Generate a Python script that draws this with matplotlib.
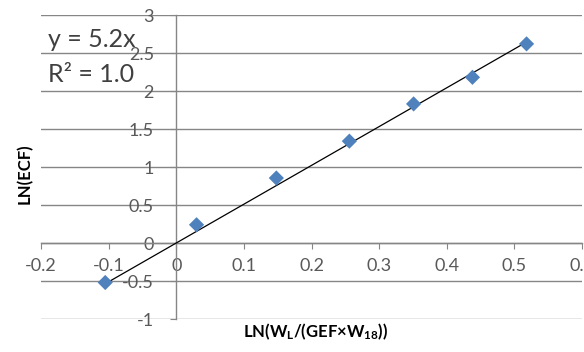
import matplotlib
matplotlib.use("Agg")
import matplotlib.pyplot as plt
import numpy as np

# values
ln_ratio = [-0.105, 0.030, 0.148, 0.256, 0.351, 0.438, 0.518]
ln_ecf = [-0.52, 0.24, 0.855, 1.34, 1.83, 2.18, 2.62]
x_ticks = [-0.2, -0.1, 0, 0.1, 0.2, 0.3, 0.4, 0.5, 0.6]
x_tick_labels = ["-0.2", "-0.1", "0", "0.1", "0.2", "0.3", "0.4", "0.5", "0.6"]
y_ticks = [-1, -0.5, 0, 0.5, 1, 1.5, 2, 2.5, 3]
y_tick_labels = ["-1", "-0.5", "0", "0.5", "1", "1.5", "2", "2.5", "3"]

plt.rcParams['font.family'] = ['Lato', 'DejaVu Sans']
plt.rcParams['axes.unicode_minus'] = False
plt.rcParams['mathtext.fontset'] = 'custom'
plt.rcParams['mathtext.rm'] = 'Lato:bold'
plt.rcParams['mathtext.default'] = 'rm'

grey = '#868686'
label_grey = '#595959'

fig = plt.figure(figsize=(5.84, 3.52), dpi=100)
ax = fig.add_axes([41 / 584, 33 / 352, 541 / 584, 304 / 352])

ax.set_xlim(-0.2, 0.6)
ax.set_ylim(-1, 3)

# horizontal gridlines
ax.set_yticks(y_ticks)
ax.yaxis.grid(True, color=grey, linewidth=1)
ax.set_axisbelow(True)

# axes cross at the origin like Excel
ax.spines['left'].set_position(('data', 0))
ax.spines['bottom'].set_position(('data', 0))
for s in ['top', 'right']:
    ax.spines[s].set_visible(False)
for s in ['left', 'bottom']:
    ax.spines[s].set_color(grey)
    ax.spines[s].set_linewidth(1)

ax.set_xticks(x_ticks)
ax.set_xticklabels(x_tick_labels)
ax.set_yticklabels(y_tick_labels)
ax.tick_params(axis='x', direction='out', length=4, color=grey, labelcolor=label_grey,
               labelsize=13, pad=7)
ax.tick_params(axis='y', direction='out', length=4, color=grey, labelcolor=label_grey,
               labelsize=13, pad=12)

# linear trend through the origin
xs = np.array(ln_ratio)
ys = np.array(ln_ecf)
slope = (xs * ys).sum() / (xs * xs).sum()
ax.plot([xs.min(), xs.max()], [slope * xs.min(), slope * xs.max()], color='black',
        linewidth=0.9, zorder=3)

ax.scatter(ln_ratio, ln_ecf, marker='D', s=60, color='#4F81BD', edgecolor='none', zorder=4)

ax.text(0.013, 0.918, "y = 5.2x", transform=ax.transAxes, fontsize=18,
        color='#404040', va='center', ha='left')
ax.text(0.013, 0.803, "R² = 1.0", transform=ax.transAxes, fontsize=18,
        color='#404040', va='center', ha='left')

fig.text(316 / 584, 1 - 332 / 352, r"LN(W$_{L}$/(GEF×W$_{18}$))", fontsize=12,
         fontweight='bold', ha='center', va='center', color='black')
fig.text(25 / 584, 1 - 174 / 352, "LN(ECF)", fontsize=12, fontweight='bold',
         rotation=90, ha='center', va='center', color='black')

fig.savefig("out.png", dpi=100, facecolor='white')
